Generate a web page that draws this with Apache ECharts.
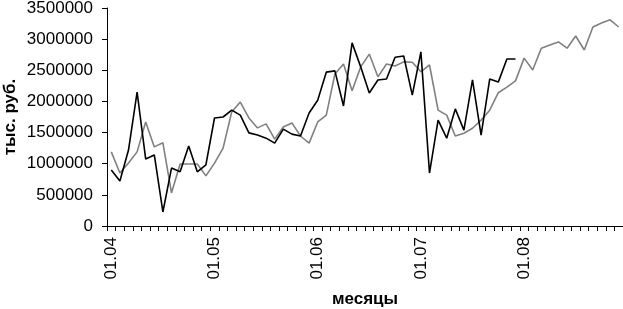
<!DOCTYPE html>
<html><head><meta charset="utf-8">
<script src="https://cdn.jsdelivr.net/npm/echarts@6/dist/echarts.min.js"></script>
<style>html,body{margin:0;padding:0;background:#fff}#c{width:623px;height:309px}</style>
</head><body><div id="c"></div>
<script>
var years = ['04','05','06','07','08'];
var months = ['01','02','03','04','05','06','07','08','09','10','11','12'];
var categories = [];
years.forEach(function(y){ months.forEach(function(m){ categories.push(m + '.' + y); }); });

var seriesBlack = [900000,722000,1220000,2150000,1075000,1140000,225000,930000,870000,1285000,870000,980000,
  1734000,1750000,1860000,1780000,1495000,1460000,1410000,1330000,1555000,1475000,1445000,1815000,
  2020000,2470000,2490000,1927000,2940000,2555000,2135000,2345000,2360000,2710000,2730000,2100000,
  2795000,850000,1700000,1410000,1880000,1540000,2345000,1460000,2360000,2310000,2680000,2680000];

var seriesGray = [1190000,850000,1010000,1190000,1670000,1270000,1335000,530000,995000,995000,995000,805000,
  1010000,1250000,1830000,1990000,1735000,1575000,1640000,1395000,1590000,1655000,1445000,1330000,
  1670000,1780000,2440000,2600000,2170000,2555000,2760000,2395000,2600000,2570000,2635000,2630000,
  2475000,2585000,1860000,1780000,1445000,1490000,1570000,1700000,1860000,2140000,2230000,2330000,
  2695000,2505000,2855000,2905000,2955000,2855000,3050000,2825000,3195000,3260000,3310000,3195000];

var FONT = 'Liberation Sans, Arial, sans-serif';
var chart = echarts.init(document.getElementById('c'));
chart.setOption({
  animation: false,
  grid: {left: 107, right: 0, top: 8, bottom: 83, containLabel: false, outerBoundsMode: 'none'},
  xAxis: {
    type: 'category', data: categories, boundaryGap: true,
    name: 'месяцы', nameLocation: 'middle', nameGap: 65, nameMoveOverlap: false,
    nameTextStyle: {fontFamily: FONT, fontSize: 17, fontWeight: 'bold', color: '#000'},
    axisLine: {lineStyle: {color: '#000', width: 1}},
    axisTick: {show: true, interval: 0, length: 5, lineStyle: {color: '#000'}},
    axisLabel: {interval: 11, rotate: 90, margin: 11, fontFamily: FONT, fontSize: 17, color: '#000'},
    splitLine: {show: false}
  },
  yAxis: {
    type: 'value', min: 0, max: 3500000, interval: 500000,
    name: 'тыс. руб.', nameLocation: 'middle', nameGap: 88, nameRotate: 90, nameMoveOverlap: false,
    nameTextStyle: {fontFamily: FONT, fontSize: 17, fontWeight: 'bold', color: '#000'},
    axisLine: {show: true, lineStyle: {color: '#000', width: 1}},
    axisTick: {show: true, length: 5, lineStyle: {color: '#000'}},
    axisLabel: {margin: 14, fontFamily: FONT, fontSize: 17, color: '#000', formatter: function(v){ return String(v); }},
    splitLine: {show: false}
  },
  series: [
    {type: 'line', data: seriesGray, showSymbol: false, symbol: 'none', lineStyle: {color: '#808080', width: 1.6}, itemStyle: {color: '#808080'}},
    {type: 'line', data: seriesBlack, showSymbol: false, symbol: 'none', lineStyle: {color: '#000', width: 1.6}, itemStyle: {color: '#000'}}
  ]
});
</script></body></html>
